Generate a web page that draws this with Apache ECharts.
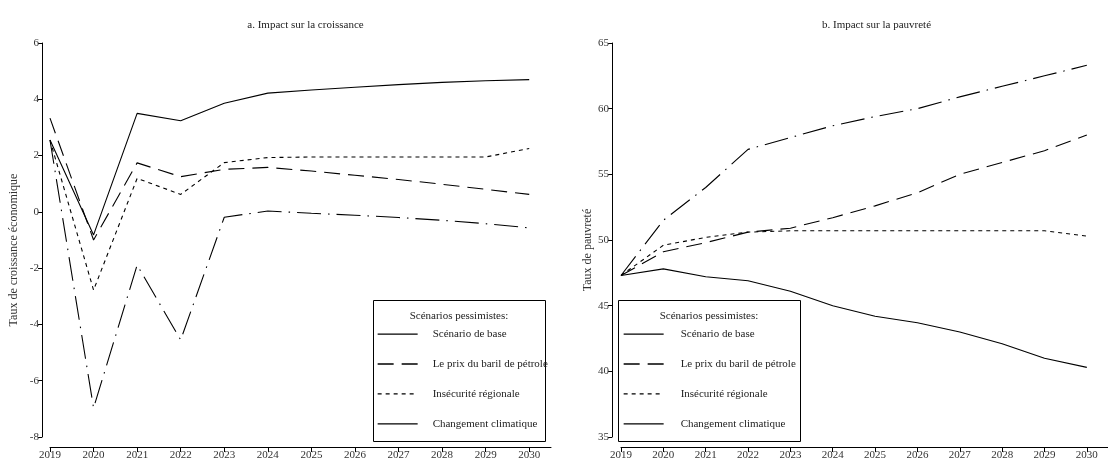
<!DOCTYPE html>
<html>
<head>
<meta charset="utf-8">
<script src="https://cdn.jsdelivr.net/npm/echarts@6/dist/echarts.min.js"></script>
<style>html,body{margin:0;padding:0;background:#fff}#c{width:1108px;height:465px}</style>
</head>
<body>
<div id="c"></div>
<script>
// ---- data ----
const years = [2019, 2020, 2021, 2022, 2023, 2024, 2025, 2026, 2027, 2028, 2029, 2030];
const seriesNames = ['Scénario de base', 'Le prix du baril de pétrole', 'Insécurité régionale', 'Changement climatique'];

// a. Impact sur la croissance
const growthBase    = [2.55, -0.82, 3.50, 3.24, 3.86, 4.22, 4.33, 4.43, 4.52, 4.60, 4.66, 4.70];
const growthOil     = [3.33, -1.00, 1.74, 1.25, 1.51, 1.58, 1.45, 1.30, 1.15, 0.98, 0.80, 0.62];
const growthSec     = [2.55, -2.78, 1.19, 0.62, 1.75, 1.93, 1.95, 1.95, 1.95, 1.95, 1.95, 2.25];
const growthClimate = [2.55, -6.97, -1.89, -4.55, -0.19, 0.03, -0.05, -0.12, -0.20, -0.30, -0.42, -0.57];

// b. Impact sur la pauvreté
const povBase    = [47.3, 47.8, 47.2, 46.9, 46.1, 45.0, 44.2, 43.7, 43.0, 42.1, 41.0, 40.3];
const povOil     = [47.3, 49.1, 49.8, 50.6, 50.9, 51.7, 52.6, 53.6, 55.0, 55.9, 56.8, 58.0];
const povSec     = [47.3, 49.6, 50.2, 50.6, 50.7, 50.7, 50.7, 50.7, 50.7, 50.7, 50.7, 50.3];
const povClimate = [47.3, 51.5, 54.0, 56.9, 57.8, 58.7, 59.4, 60.0, 60.9, 61.7, 62.5, 63.3];

const growthTicks = [-8, -6, -4, -2, 0, 2, 4, 6];
const povTicks = [35, 40, 45, 50, 55, 60, 65];

const titles = ['a. Impact sur la croissance', 'b. Impact sur la pauvreté'];
const yNames = ['Taux de croissance économique', 'Taux de pauvreté'];
const legendTitle = 'Scénarios pessimistes:';

// ---- styles ----
const FONT = 'Liberation Serif';
const dashStyles = ['solid', [16, 8], [4, 4], [24, 7, 1.5, 7]];
const pair = (arr) => years.map((y, i) => [y, arr[i]]);

const grids = [
  {left: 50, top: 43, width: 501, height: 394},
  {left: 621, top: 43, width: 501, height: 394}
];

function xAx(gi) {
  return {
    type: 'value', gridIndex: gi, min: 2019, max: 2030.5, interval: 1, offset: 10,
    axisLine: {show: true, onZero: false, lineStyle: {color: '#000', width: 1}},
    axisTick: {show: true, length: 5, lineStyle: {color: '#000'}, customValues: years},
    axisLabel: {color: '#333', fontSize: 11, fontFamily: FONT, margin: 3, customValues: years,
                formatter: v => String(v)},
    splitLine: {show: false}
  };
}
function yAx(gi, min, max, interval, offset, name, gap) {
  return {
    type: 'value', gridIndex: gi, min: min, max: max, interval: interval, offset: offset,
    axisLine: {show: true, lineStyle: {color: '#000', width: 1}},
    axisTick: {show: true, length: 4, lineStyle: {color: '#000'}},
    axisLabel: {color: '#333', fontSize: 11, fontFamily: FONT, margin: 3},
    splitLine: {show: false},
    name: name, nameLocation: 'middle', nameGap: gap,
    nameTextStyle: {color: '#333', fontSize: 12, fontFamily: FONT, padding: [0, 20, 0, 0]}
  };
}

const growthSets = [growthBase, growthOil, growthSec, growthClimate];
const povSets = [povBase, povOil, povSec, povClimate];
const series = [];
[growthSets, povSets].forEach((sets, gi) => {
  sets.forEach((arr, k) => {
    series.push({
      type: 'line', name: seriesNames[k], xAxisIndex: gi, yAxisIndex: gi,
      data: pair(arr), symbol: 'none', smooth: false,
      lineStyle: {color: '#000', width: 1.1, type: dashStyles[k]},
      itemStyle: {color: '#000'}
    });
  });
});

function legendData() {
  return seriesNames.map((n, k) => k === 3 ? {name: n, lineStyle: {type: 'solid'}} : {name: n});
}

const boxes = [
  {x: 373, y: 300, w: 172, h: 141, iconX: 377, textPad: 10},
  {x: 618, y: 300, w: 182, h: 141, iconX: 623, textPad: 12}
];

const option = {
  backgroundColor: '#fff',
  animation: false,
  title: titles.map((t, i) => ({
    text: t, left: grids[i].left + grids[i].width / 2, top: 15, textAlign: 'center',
    textStyle: {fontSize: 11, fontWeight: 'normal', color: '#222', fontFamily: FONT}
  })),
  grid: grids,
  xAxis: [xAx(0), xAx(1)],
  yAxis: [
    yAx(0, growthTicks[0], growthTicks[growthTicks.length - 1], 2, 8, yNames[0], 22),
    yAx(1, povTicks[0], povTicks[povTicks.length - 1], 5, 9, yNames[1], 17)
  ],
  legend: boxes.map(b => ({
    orient: 'vertical', left: b.iconX, top: 328.5, padding: 0,
    itemWidth: 40, itemHeight: 14, itemGap: 18.7,
    data: legendData(), selectedMode: false,
    textStyle: {fontSize: 11, color: '#222', fontFamily: FONT, padding: [0, 0, 0, b.textPad]},
    lineStyle: {width: 1.3},
    itemStyle: {opacity: 0, color: 'rgba(0,0,0,0)', borderWidth: 0}
  })),
  graphic: boxes.flatMap(b => [
    {type: 'rect', shape: {x: b.x + 0.5, y: b.y + 0.5, width: b.w, height: b.h},
     style: {fill: '#fff', stroke: '#000', lineWidth: 1}, z: 0},
    {type: 'text', x: b.x + b.w / 2, y: 316,
     style: {text: legendTitle, font: '11px "Liberation Serif"', fill: '#222',
             textAlign: 'center', textVerticalAlign: 'middle'}, z: 10}
  ]),
  series: series
};

const chart = echarts.init(document.getElementById('c'), null, {renderer: 'canvas'});
chart.setOption(option);
</script>
</body>
</html>
